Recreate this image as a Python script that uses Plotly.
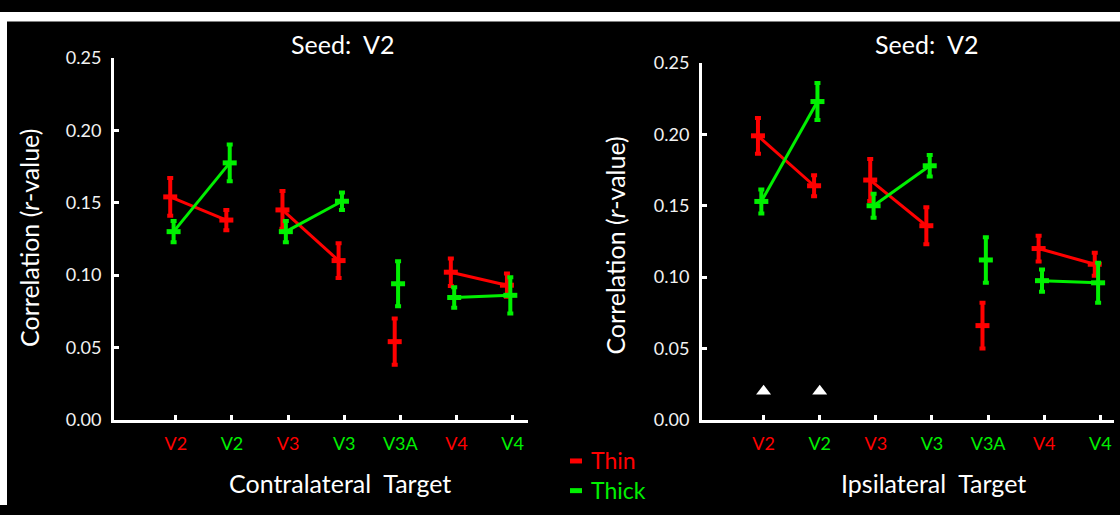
import plotly.graph_objects as go

# categories along the x axis
targets = ["V2", "V2", "V3", "V3", "V3A", "V4", "V4"]
target_colors = ["red", "green", "red", "green", "green", "red", "green"]
pos = [1, 2, 3, 4, 5, 6, 7]
pairs = [(0, 1), (2, 3), (5, 6)]   # points joined by a line

# contralateral target, seed V2
contra_thin = [0.154, 0.138, 0.145, 0.110, 0.054, 0.102, 0.093]
contra_thin_err = [0.013, 0.007, 0.013, 0.012, 0.016, 0.0095, 0.008]
contra_thick = [0.130, 0.1775, 0.130, 0.151, 0.094, 0.0845, 0.086]
contra_thick_err = [0.0074, 0.0127, 0.0074, 0.006, 0.0155, 0.007, 0.0125]

# ipsilateral target, seed V2
ipsi_thin = [0.199, 0.164, 0.168, 0.136, 0.066, 0.120, 0.109]
ipsi_thin_err = [0.0125, 0.0074, 0.0147, 0.013, 0.016, 0.009, 0.008]
ipsi_thick = [0.153, 0.223, 0.150, 0.178, 0.112, 0.0975, 0.096]
ipsi_thick_err = [0.0084, 0.013, 0.0084, 0.0076, 0.016, 0.0078, 0.014]

# arrowheads under the ipsilateral V2 columns
marked_pos = [1, 2]
marked_y = [0.02, 0.02]

RED = "#ff0000"
GREEN = "#00f000"
FONT = "Lato"
W, H = 1120, 515

col = {"red": RED, "green": GREEN}
ticktext = ['<span style="color:%s">%s</span>' % (col[c], t)
            for t, c in zip(targets, target_colors)]


def series(fig, vals, errs, color, shift, xa, ya):
    xs = [p + shift for p in pos]
    lx, ly = [], []
    for a, b in pairs:
        lx += [xs[a], xs[b], None]
        ly += [vals[a], vals[b], None]
    fig.add_trace(go.Scatter(x=lx, y=ly, mode="lines", xaxis=xa, yaxis=ya,
                             line=dict(color=color, width=3),
                             showlegend=False, hoverinfo="skip"))
    fig.add_trace(go.Scatter(x=xs, y=vals, mode="markers", xaxis=xa, yaxis=ya,
                             marker=dict(symbol="line-ew", size=10, color=color,
                                         line=dict(color=color, width=5)),
                             error_y=dict(type="data", array=errs, color=color,
                                          thickness=4, width=3),
                             cliponaxis=False, showlegend=False))


fig = go.Figure()
series(fig, contra_thin, contra_thin_err, RED, -0.1, "x", "y")
series(fig, contra_thick, contra_thick_err, GREEN, -0.04, "x", "y")
series(fig, ipsi_thin, ipsi_thin_err, RED, -0.1, "x2", "y2")
series(fig, ipsi_thick, ipsi_thick_err, GREEN, -0.04, "x2", "y2")
fig.add_trace(go.Scatter(x=marked_pos, y=marked_y, mode="markers", xaxis="x2", yaxis="y2",
                         marker=dict(symbol="triangle-up", size=13, color="white"),
                         showlegend=False))

xax = dict(showline=True, linecolor="white", linewidth=3, showgrid=False, zeroline=False,
           ticks="inside", ticklen=5, tickwidth=3, tickcolor="white",
           tickvals=pos, ticktext=ticktext, tickfont=dict(size=18, family=FONT),
           ticklabelstandoff=6, fixedrange=True)
yax = dict(showline=True, linecolor="white", linewidth=3, showgrid=False, zeroline=False,
           ticks="inside", ticklen=5, tickwidth=3, tickcolor="white",
           range=[0, 0.25], tickvals=[0, 0.05, 0.1, 0.15, 0.2, 0.25], tickformat=".2f",
           tickfont=dict(size=18, family=FONT, color="#f2f2f2"),
           ticklabelstandoff=6, fixedrange=True)

fig.update_layout(
    width=W, height=H,
    margin=dict(l=0, r=0, t=0, b=0),
    paper_bgcolor="black", plot_bgcolor="black",
    font=dict(family=FONT, color="white"),
    xaxis=dict(xax, domain=[114 / W, 528 / W], range=[-0.102, 7.275], anchor="y"),
    yaxis=dict(yax, domain=[89 / H, 467 / H], anchor="x"),
    xaxis2=dict(xax, domain=[702 / W, 1114 / W], range=[-0.097, 7.243], anchor="y2"),
    yaxis2=dict(yax, domain=[89 / H, 461.7 / H], anchor="x2"),
)


def px(x, y):
    return x / W, (H - y) / H


annos = [
    ("Seed:  V2", 342, 33, 25, 0),
    ("Seed:  V2", 926, 33, 25, 0),
    ("Correlation (<i>r</i>-value)", 29, 236, 25, -90),
    ("Correlation (<i>r</i>-value)", 615, 244, 25, -90),
    ("Contralateral  Target", 340, 492, 25, 0),
    ("Ipsilateral  Target", 933, 492, 25, 0),
]
for text, x, y, size, ang in annos:
    ax_, ay_ = px(x, y)
    fig.add_annotation(text=text, x=ax_, y=ay_, xref="paper", yref="paper",
                       showarrow=False, textangle=ang, xanchor="center", yanchor="middle",
                       font=dict(size=size, color="white", family=FONT))

# legend
for name, color, y in [("Thin", RED, 469), ("Thick", GREEN, 500)]:
    x0, yy = px(570, y)
    x1, _ = px(582, y)
    fig.add_shape(type="line", xref="paper", yref="paper", x0=x0, x1=x1, y0=yy, y1=yy,
                  line=dict(color=color, width=5))
    tx, ty = px(589, y - 1)
    fig.add_annotation(text=name, x=tx, y=ty, xref="paper", yref="paper", showarrow=False,
                       xanchor="left", yanchor="middle", font=dict(size=23, color=color, family=FONT))

# white border strips at top and left
fig.add_shape(type="rect", xref="paper", yref="paper", x0=0, x1=1, y0=(H - 10) / H, y1=1,
              fillcolor="white", line=dict(width=0), layer="above")
fig.add_shape(type="rect", xref="paper", yref="paper", x0=0, x1=7 / W, y0=0, y1=1,
              fillcolor="white", line=dict(width=0), layer="above")

# keep the figure flush with the page corner, no modebar
fig.write_html("out.html", config={"displayModeBar": False},
               post_script="document.body.style.margin='0';"
                           "document.body.style.overflow='hidden';")
